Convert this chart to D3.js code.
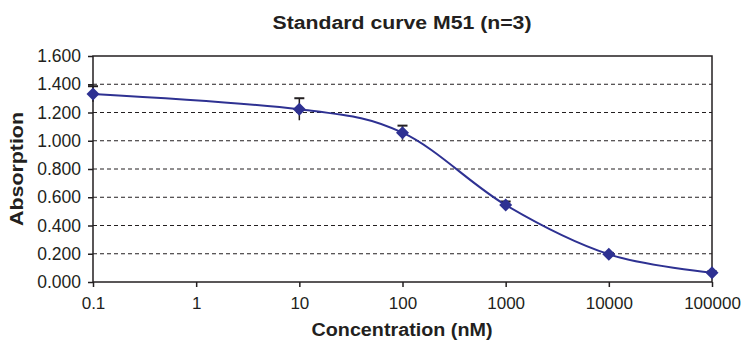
<!DOCTYPE html>
<meta charset="utf-8">
<head>
  <script src="https://d3js.org/d3.v7.min.js"></script>
  <style>
    body { margin: 0; background: #fff; }
    text { font-family: "Liberation Sans", Arial, sans-serif; fill: #231f20; }
  </style>
</head>
<body>
<div id="display"></div>
<script>
// data
var concentrations = [0.1, 10, 100, 1000, 10000, 100000];
var absorption = [1.331, 1.223, 1.057, 0.545, 0.196, 0.066];
var errors = [0.055, 0.078, 0.05, 0.025, 0.01, 0.008];
var xTicks = [0.1, 1, 10, 100, 1000, 10000, 100000];
var xTickLabels = ["0.1", "1", "10", "100", "1000", "10000", "100000"];
var yTicks = [0, 0.2, 0.4, 0.6, 0.8, 1.0, 1.2, 1.4, 1.6];

var width = 745, height = 343;
var margin = {top: 56, right: 33, bottom: 61, left: 93},
    w = width - margin.left - margin.right,
    h = height - margin.top - margin.bottom;

var svg = d3.select("#display").append("svg")
    .attr("width", width)
    .attr("height", height);

var g = svg.append("g")
    .attr("transform", "translate(" + margin.left + "," + margin.top + ")");

var x = d3.scaleLog().domain([0.1, 100000]).range([0, w]);
var y = d3.scaleLinear().domain([0, 1.6]).range([h, 0]);

// dashed grid
g.selectAll(".grid")
  .data(yTicks.filter(function(d) { return d > 0 && d < 1.6; }))
  .enter().append("line")
    .attr("x1", 0).attr("x2", w)
    .attr("y1", function(d) { return y(d); })
    .attr("y2", function(d) { return y(d); })
    .attr("stroke", "#231f20")
    .attr("stroke-width", 1)
    .attr("stroke-dasharray", "4,3");

// plot frame
g.append("rect")
  .attr("width", w).attr("height", h)
  .attr("fill", "none")
  .attr("stroke", "#231f20")
  .attr("stroke-width", 1.5);

var yAxis = g.append("g")
  .call(d3.axisLeft(y).tickValues(yTicks).tickFormat(d3.format(".3f")).tickSizeOuter(0).tickSize(5).tickPadding(7));
yAxis.select(".domain").remove();
yAxis.selectAll("line").attr("stroke", "#231f20").attr("stroke-width", 1.5);
yAxis.selectAll("text").attr("font-size", 17.5).style("font-family", "Liberation Sans, Arial, sans-serif").attr("fill", "#231f20");

var xAxis = g.append("g")
  .attr("transform", "translate(0," + h + ")")
  .call(d3.axisBottom(x).tickValues(xTicks)
    .tickFormat(function(d, i) { return xTickLabels[i]; })
    .tickSizeOuter(0).tickSize(5).tickPadding(10));
xAxis.select(".domain").remove();
xAxis.selectAll("line").attr("stroke", "#231f20").attr("stroke-width", 1.5);
xAxis.selectAll("text").attr("font-size", 17).style("font-family", "Liberation Sans, Arial, sans-serif").attr("fill", "#231f20");

var points = concentrations.map(function(c, i) { return {c: c, v: absorption[i], e: errors[i]}; });

// error bars (cap on top)
var eb = g.selectAll(".err").data(points).enter().append("g");
eb.append("line")
  .attr("x1", function(d) { return x(d.c); })
  .attr("x2", function(d) { return x(d.c); })
  .attr("y1", function(d) { return y(d.v + d.e); })
  .attr("y2", function(d) { return y(d.v - d.e); })
  .attr("stroke", "#231f20").attr("stroke-width", 1.5);
eb.append("line")
  .attr("x1", function(d) { return x(d.c) - 5; })
  .attr("x2", function(d) { return x(d.c) + 5; })
  .attr("y1", function(d) { return y(d.v + d.e); })
  .attr("y2", function(d) { return y(d.v + d.e); })
  .attr("stroke", "#231f20").attr("stroke-width", 2);

// smoothed line
var line = d3.line()
  .x(function(d) { return x(d.c); })
  .y(function(d) { return y(d.v); })
  .curve(d3.curveCardinal.tension(0));

g.append("path")
  .datum(points)
  .attr("d", line)
  .attr("fill", "none")
  .attr("stroke", "#2e3192")
  .attr("stroke-width", 2);

// diamond markers
g.selectAll(".pt").data(points).enter().append("path")
  .attr("transform", function(d) { return "translate(" + x(d.c) + "," + y(d.v) + ")"; })
  .attr("d", "M0,-6.5L6.5,0L0,6.5L-6.5,0Z")
  .attr("fill", "#2e3192");

// titles
svg.append("text")
  .attr("x", 402).attr("y", 29)
  .attr("text-anchor", "middle")
  .attr("font-size", 18).attr("font-weight", "bold")
  .attr("textLength", 259).attr("lengthAdjust", "spacingAndGlyphs")
  .text("Standard curve M51 (n=3)");

svg.append("text")
  .attr("x", 402).attr("y", 336)
  .attr("text-anchor", "middle")
  .attr("font-size", 18).attr("font-weight", "bold")
  .attr("textLength", 181).attr("lengthAdjust", "spacingAndGlyphs")
  .text("Concentration (nM)");

svg.append("text")
  .attr("transform", "translate(23," + (margin.top + h / 2) + ") rotate(-90)")
  .attr("text-anchor", "middle")
  .attr("font-size", 18).attr("font-weight", "bold")
  .attr("textLength", 114).attr("lengthAdjust", "spacingAndGlyphs")
  .text("Absorption");
</script>
</body>
